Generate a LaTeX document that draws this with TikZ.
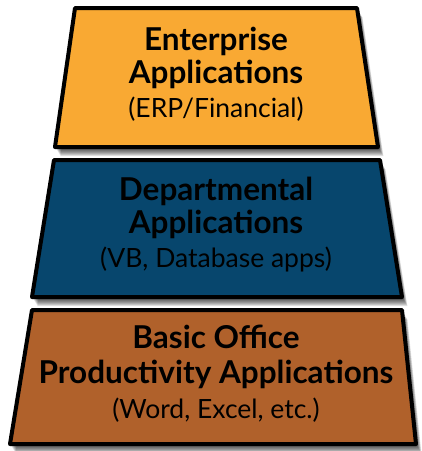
\documentclass[tikz,border=0pt]{standalone}
\usepackage{fontspec}
\setmainfont{Lato}
\definecolor{orangeA}{HTML}{F9A933}
\definecolor{blueA}{HTML}{07466D}
\definecolor{brownA}{HTML}{B0612B}
\tikzset{
  layer/.style={draw=black,line width=4pt,line join=round},
  shade1/.style={fill=black,opacity=0.12},
  ttl/.style={font=\fontsize{31.5}{33}\selectfont\bfseries,align=center,text=black},
  sub/.style={font=\fontsize{26.5}{33}\selectfont,text=black}
}
\begin{document}
\begin{tikzpicture}[x=1pt,y=-1pt]
\useasboundingbox (0,0) rectangle (422,451);
% shadows
\foreach \d in {2,3,4,5,6,7,8,9}{
  \fill[shade1] (75+\d*0.6,8+\d) -- (357+\d*0.6,8+\d) -- (378+\d*0.6,147+\d) -- (55+\d*0.6,147+\d) -- cycle;
  \fill[shade1] (54+\d*0.6,160+\d) -- (380+\d*0.6,160+\d) -- (402+\d*0.6,297+\d) -- (32+\d*0.6,297+\d) -- cycle;
  \fill[shade1] (32+\d*0.6,310+\d) -- (402+\d*0.6,310+\d) -- (416+\d*0.6,444+\d) -- (10+\d*0.6,444+\d) -- cycle;
}
% layers
\draw[layer,fill=orangeA] (75,8) -- (357,8) -- (378,147) -- (55,147) -- cycle;
\draw[layer,fill=blueA] (54,160) -- (380,160) -- (402,297) -- (32,297) -- cycle;
\draw[layer,fill=brownA] (32,310) -- (402,310) -- (416,444) -- (10,444) -- cycle;
% texts
\node[ttl,anchor=base] (t1) at (216,50) {Enterprise};
\node[ttl,anchor=base] (t2) at (216,83) {Applications};
\node[sub,anchor=base] (t3) at (216,117) {(ERP/Financial)};
\node[ttl,anchor=base] (m1) at (216,200) {Departmental};
\node[ttl,anchor=base] (m2) at (216,233) {Applications};
\node[sub,anchor=base] (m3) at (216,267) {(VB, Database apps)};
\node[ttl,anchor=base] (b1) at (216,348) {Basic Office};
\node[ttl,anchor=base] (b2) at (216,383) {Productivity Applications};
\node[sub,anchor=base] (b3) at (216,418) {(Word, Excel, etc.)};
\end{tikzpicture}
\end{document}
